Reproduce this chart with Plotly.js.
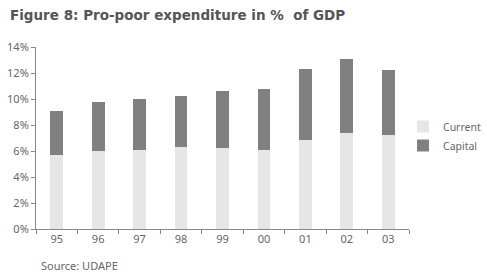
<!DOCTYPE html>
<html>
<head>
<meta charset="utf-8">
<script src="https://cdn.plot.ly/plotly-3.0.1.min.js"></script>
<style>html,body{margin:0;padding:0;background:#fff;}#chart{width:487px;height:280px;}</style>
</head>
<body>
<div id="chart"></div>
<script>
const years = ["95", "96", "97", "98", "99", "00", "01", "02", "03"];
const currentValues = [5.72, 6.0, 6.08, 6.27, 6.25, 6.08, 6.85, 7.4, 7.23];
const totalValues = [9.1, 9.77, 10.0, 10.23, 10.6, 10.8, 12.33, 13.05, 12.23];
const capitalValues = totalValues.map((t, i) => +(t - currentValues[i]).toFixed(2));
const yTickVals = [0, 2, 4, 6, 8, 10, 12, 14];
const yTickText = ["0%", "2%", "4%", "6%", "8%", "10%", "12%", "14%"];

const font = "Noto Sans, Liberation Sans, sans-serif";
const traces = [
  {type: "bar", name: "Current", x: years, y: currentValues, marker: {color: "#e6e6e6"}, hoverinfo: "skip"},
  {type: "bar", name: "Capital", x: years, y: capitalValues, marker: {color: "#808080"}, hoverinfo: "skip"}
];
const layout = {
  width: 487, height: 280,
  margin: {l: 36, r: 78, t: 47, b: 51, autoexpand: false},
  paper_bgcolor: "#fff", plot_bgcolor: "#fff",
  barmode: "stack", bargap: 0.69,
  font: {family: font, size: 11, color: "#666"},
  showlegend: true,
  legend: {xref: "container", yref: "container", x: 403 / 487, y: 1 - 136 / 280, xanchor: "left", yanchor: "middle",
           traceorder: "normal", font: {size: 10.5, color: "#666"}, itemwidth: 30, tracegroupgap: 0},
  title: {text: "<b>Figure 8: Pro-poor expenditure in %  of GDP</b>", x: 10 / 487, xref: "container", xanchor: "left",
          y: 0.945, yanchor: "middle", font: {family: "DejaVu Sans, sans-serif", size: 13.5, color: "#555"}},
  xaxis: {type: "category", showline: true, linecolor: "#888", linewidth: 1, ticks: "outside",
          tickson: "boundaries", ticklen: 4, tickcolor: "#888", showgrid: false, zeroline: false,
          tickfont: {size: 11, color: "#666"}},
  yaxis: {range: [0, 14], tickvals: yTickVals, ticktext: yTickText, showline: true, linecolor: "#888",
          linewidth: 1, ticks: "outside", ticklen: 4, tickcolor: "#888", showgrid: false, zeroline: false,
          tickfont: {size: 11, color: "#666"}},
  annotations: [{text: "Source: UDAPE", xref: "paper", yref: "paper", x: 3 / 373, y: -0.2, xanchor: "left",
                 yanchor: "middle", showarrow: false, font: {size: 11, color: "#666"}}]
};
Plotly.newPlot("chart", traces, layout, {staticPlot: true});
</script>
</body>
</html>
